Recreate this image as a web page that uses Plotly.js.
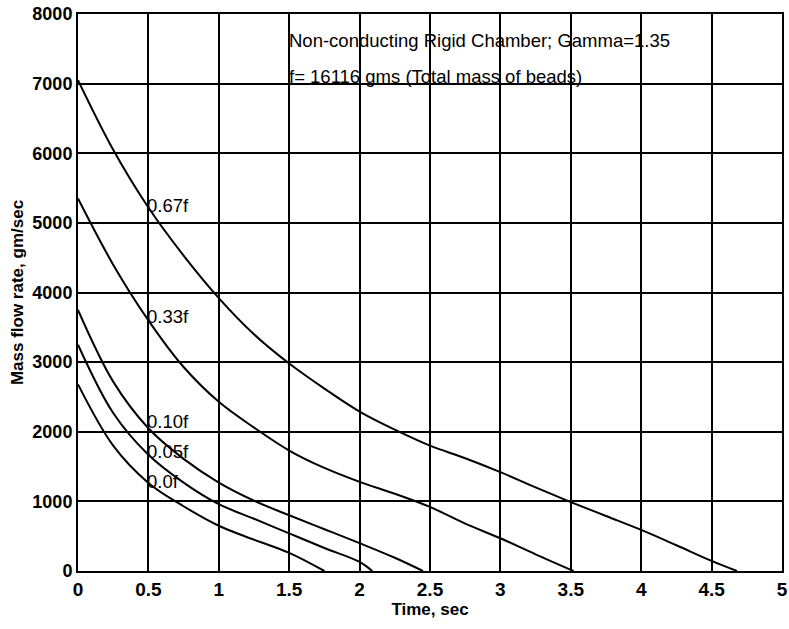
<!DOCTYPE html>
<html>
<head>
<meta charset="utf-8">
<script src="https://cdn.plot.ly/plotly-3.0.1.min.js"></script>
<style>html,body{margin:0;padding:0;background:#fff;}#chart{width:789px;height:629px;}</style>
</head>
<body>
<div id="chart"></div>
<script>
// Time (sec) and mass flow rate (gm/sec) for each bead-mass fraction
const t067 = [0, 0.25, 0.5, 0.75, 1, 1.25, 1.5, 1.75, 2, 2.25, 2.5, 2.75, 3, 3.25, 3.5, 3.75, 4, 4.25, 4.5, 4.68];
const m067 = [7050, 6050, 5220, 4530, 3920, 3400, 2980, 2620, 2290, 2030, 1800, 1620, 1420, 1200, 990, 790, 590, 370, 145, 0];

const t033 = [0, 0.25, 0.5, 0.75, 1, 1.25, 1.5, 1.75, 2, 2.25, 2.5, 2.75, 3, 3.25, 3.52];
const m033 = [5350, 4400, 3600, 2930, 2430, 2060, 1730, 1480, 1280, 1110, 920, 680, 470, 240, 0];

const t010 = [0, 0.25, 0.5, 0.75, 1, 1.25, 1.5, 1.75, 2, 2.25, 2.45];
const m010 = [3750, 2720, 2050, 1610, 1270, 1010, 800, 600, 400, 190, 0];

const t005 = [0, 0.25, 0.5, 0.75, 1, 1.25, 1.5, 1.75, 2, 2.09];
const m005 = [3250, 2270, 1670, 1270, 960, 750, 540, 330, 130, 0];

const t000 = [0, 0.25, 0.5, 0.75, 1, 1.25, 1.5, 1.75];
const m000 = [2680, 1800, 1265, 930, 650, 450, 260, 0];

const curveLabels = ["0.67f", "0.33f", "0.10f", "0.05f", "0.0f"];
const labelX = [0.5, 0.5, 0.5, 0.5, 0.5];
const labelY = [5250, 3660, 2150, 1720, 1290];

const xTickVals = [0, 0.5, 1, 1.5, 2, 2.5, 3, 3.5, 4, 4.5, 5];
const xTickText = ["0", "0.5", "1", "1.5", "2", "2.5", "3", "3.5", "4", "4.5", "5"];
const yTickVals = [0, 1000, 2000, 3000, 4000, 5000, 6000, 7000, 8000];
const yTickText = ["0", "1000", "2000", "3000", "4000", "5000", "6000", "7000", "8000"];

const noteLines = ["Non-conducting Rigid Chamber; Gamma=1.35", "f= 16116 gms (Total mass of beads)"];
const noteX = [1.5, 1.5];
const noteY = [7620, 7100];

const series = [[t067, m067], [t033, m033], [t010, m010], [t005, m005], [t000, m000]];
const traces = series.map((s, i) => ({
  x: s[0], y: s[1], type: 'scatter', mode: 'lines', name: curveLabels[i],
  line: {color: '#000', width: 2, shape: 'spline', smoothing: 1},
  hoverinfo: 'skip'
}));

const txtFont = {family: 'Liberation Sans, Arial, sans-serif', size: 18.5, color: '#000'};
const annotations = [];
curveLabels.forEach((lab, i) => annotations.push({
  x: labelX[i], y: labelY[i], xref: 'x', yref: 'y', text: lab, showarrow: false,
  xanchor: 'left', yanchor: 'middle', xshift: -3, font: txtFont
}));
noteLines.forEach((n, i) => annotations.push({
  x: noteX[i], y: noteY[i], xref: 'x', yref: 'y', text: n, showarrow: false,
  xanchor: 'left', yanchor: 'middle', xshift: -2, font: txtFont
}));

const tickFont = {family: 'Liberation Sans, Arial, sans-serif', size: 19, color: '#000', weight: 'bold'};
const layout = {
  width: 789, height: 629,
  margin: {l: 78, r: 7, t: 14, b: 58},
  paper_bgcolor: '#fff', plot_bgcolor: '#fff',
  showlegend: false,
  xaxis: {
    range: [0, 5], tickvals: xTickVals, ticktext: xTickText,
    showgrid: true, gridcolor: '#000', gridwidth: 2, zeroline: false,
    showline: true, linecolor: '#000', linewidth: 2, mirror: true,
    ticks: '', tickfont: tickFont, automargin: false,
    title: {text: 'Time, sec', font: {family: 'Liberation Sans, Arial, sans-serif', size: 17, color: '#000', weight: 'bold'}, standoff: 2}
  },
  yaxis: {
    range: [0, 8000], tickvals: yTickVals, ticktext: yTickText,
    showgrid: true, gridcolor: '#000', gridwidth: 2, zeroline: false,
    showline: true, linecolor: '#000', linewidth: 2, mirror: true,
    ticks: '', tickfont: {family: 'Liberation Sans, Arial, sans-serif', size: 18, color: '#000', weight: 'bold'}, automargin: false,
    title: {text: 'Mass flow rate, gm/sec', font: {family: 'Liberation Sans, Arial, sans-serif', size: 17, color: '#000', weight: 'bold'}, standoff: 4}
  },
  annotations: annotations
};
Plotly.newPlot('chart', traces, layout, {displayModeBar: false, staticPlot: true});
</script>
</body>
</html>
